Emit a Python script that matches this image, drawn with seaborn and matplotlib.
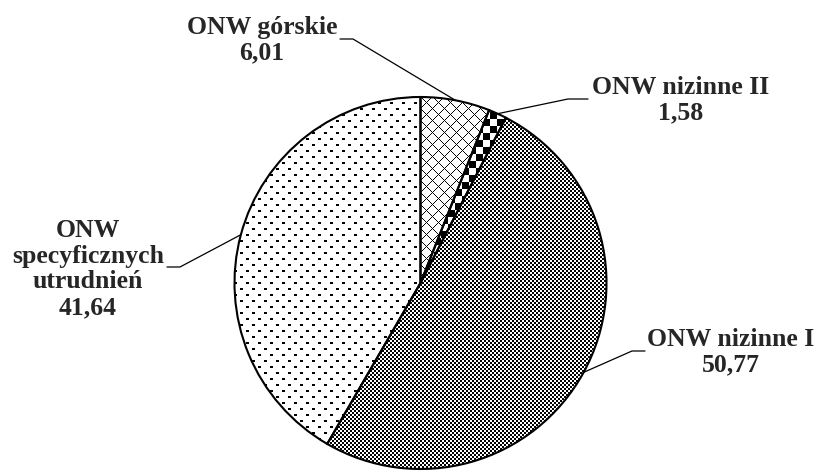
import numpy as np
import matplotlib
matplotlib.use("Agg")
import matplotlib.pyplot as plt
import seaborn as sns

# data (share of area, %)
categories = ["ONW górskie", "ONW nizinne II", "ONW nizinne I", "ONW\nspecyficznych\nutrudnień"]
shares = [6.01, 1.58, 50.77, 41.64]
value_labels = ["6,01", "1,58", "50,77", "41,64"]

sns.set_style("white")
plt.rcParams["font.family"] = ["Liberation Serif", "DejaVu Serif"]

W, H = 821, 472
fig = plt.figure(figsize=(W / 100, H / 100), dpi=100)
ax = fig.add_axes([0, 0, 1, 1])

# pie works in pixel coordinates, y pointing down
center = (420.5, 283)
radius = 186
pie_kw = dict(center=center, radius=radius, startangle=270, counterclock=True)

wedges, _ = ax.pie(shares, colors=["white"] * 4, wedgeprops=dict(linewidth=0), **pie_kw)

# black/white fill patterns, one per slice
X, Y = np.meshgrid(np.arange(W), np.arange(H))
patterns = [
    ((X + Y) % 12 == 0) | ((X - Y) % 12 == 0),                      # open cross hatch
    ((X // 7 + Y // 7) % 2 == 0),                                  # large checker
    ((X // 2 + Y // 2) % 2 == 0),                                  # small checker
    (Y % 6 < 2) & (((X + 6 * ((Y // 6) % 2)) % 12) < 3),            # dots
]
for w, pat in zip(wedges, patterns):
    img = np.where(pat, 0.0, 1.0)
    im = ax.imshow(img, cmap="gray", vmin=0, vmax=1, extent=(0, W, H, 0),
                   interpolation="nearest", zorder=2)
    im.set_clip_path(w)

# outlines on top
ax.pie(shares, colors=["none"] * 4,
       wedgeprops=dict(edgecolor="black", linewidth=1.5, zorder=3), **pie_kw)

# label layout: block centre and leader elbow (pixels)
label_xy = [(262, 40), (681, 100), (731, 352), (88, 269)]
elbows = [((340, 39), (353, 39)), ((588, 99), (568, 99)),
          ((645, 351), (632, 351)), ((167, 267), (180, 267))]

for w, (p0, p1) in zip(wedges, elbows):
    mid = np.deg2rad((w.theta1 + w.theta2) / 2)
    ex = center[0] + radius * np.cos(mid)
    ey = center[1] + radius * np.sin(mid)
    ax.plot([p0[0], p1[0], ex], [p0[1], p1[1], ey], color="black", lw=0.9, zorder=4)

for name, val, (x, y) in zip(categories, value_labels, label_xy):
    ax.text(x, y, f"{name}\n{val}", ha="center", va="center",
            fontsize=18.5, fontweight="bold", linespacing=1.15, zorder=5)

ax.set_aspect("auto")
ax.set_xlim(0, W)
ax.set_ylim(H, 0)
ax.axis("off")

fig.savefig("out.png", dpi=100)
